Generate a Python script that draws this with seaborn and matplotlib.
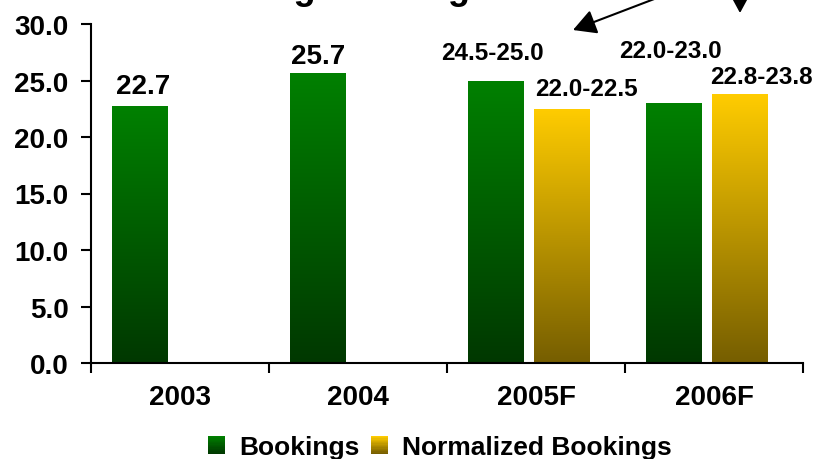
import numpy as np
import pandas as pd
import matplotlib
matplotlib.use("Agg")
import matplotlib.pyplot as plt
from matplotlib.patches import Rectangle, FancyArrowPatch
from matplotlib.legend_handler import HandlerBase
import seaborn as sns

# ---- data -------------------------------------------------------------
years = ["2003", "2004", "2005F", "2006F"]
series = ["Bookings", "Normalized Bookings"]
bookings = [22.7, 25.7, 25.0, 23.0]
bookings_labels = ["22.7", "25.7", "24.5-25.0", "22.0-23.0"]
normalized = [None, None, 22.5, 23.8]
normalized_labels = [None, None, "22.0-22.5", "22.8-23.8"]
y_ticks = [0, 5, 10, 15, 20, 25, 30]
title_text = "Strong Bookings"

# ---- styling ----------------------------------------------------------
sns.set_style("white")
plt.rcParams["font.family"] = ["Liberation Sans", "DejaVu Sans"]
plt.rcParams["font.weight"] = "bold"
plt.rcParams["text.color"] = "black"
plt.rcParams["xtick.color"] = "black"
plt.rcParams["ytick.color"] = "black"
plt.rcParams["xtick.labelcolor"] = "black"
plt.rcParams["ytick.labelcolor"] = "black"

grad = {
    "Bookings": ((0 / 255, 128 / 255, 0 / 255), (0 / 255, 56 / 255, 0 / 255)),
    "Normalized Bookings": ((255 / 255, 204 / 255, 0 / 255), (118 / 255, 94 / 255, 0 / 255)),
}
# label offsets in pixels (dx, dy above bar top) per series and year
bookings_off = [(3, 13), (0, 10), (-3, 21), (-3, 46)]
normalized_off = [None, None, (25, 14), (22, 11)]
label_size = {"short": 20, "range": 17.5}

rows = []
for y, v in zip(years, bookings):
    rows.append((y, "Bookings", v))
for y, v in zip(years, normalized):
    if v is not None:
        rows.append((y, "Normalized Bookings", v))
df = pd.DataFrame(rows, columns=["year", "series", "value"])

W, H, DPI = 821, 460, 100
fig = plt.figure(figsize=(W / DPI, H / DPI), dpi=DPI)
ax = fig.add_axes([91 / W, (H - 364) / H, (803 - 91) / W, (364 - 25) / H])

sns.barplot(data=df, x="year", y="value", hue="series", order=years,
            hue_order=series, width=0.742, gap=0.167, dodge=True,
            errorbar=None, legend=False, ax=ax,
            palette={s: grad[s][0] for s in series})

shift = 0.04
ax.set_xlim(-0.5 + shift, 3.5 + shift)
ax.set_ylim(0, 30)

# vertical gradient fill for each bar
for s, cont in zip(series, ax.containers):
    top, bot = grad[s]
    col = np.linspace(np.array(top), np.array(bot), 128).reshape(128, 1, 3)
    for bar in cont:
        h = bar.get_height()
        if not np.isfinite(h) or h <= 0:
            continue
        x0 = bar.get_x()
        bar.set_facecolor("none")
        bar.set_edgecolor("none")
        im = ax.imshow(col, extent=(x0, x0 + bar.get_width(), 0, h),
                       origin="upper", aspect="auto", zorder=2,
                       interpolation="bilinear")
        im.set_clip_path(bar)
ax.set_xlim(-0.5 + shift, 3.5 + shift)
ax.set_ylim(0, 30)

# value labels
label_sets = {"Bookings": (bookings, bookings_labels, bookings_off),
              "Normalized Bookings": (normalized, normalized_labels, normalized_off)}
for s, cont in zip(series, ax.containers):
    vals, labs, offs = label_sets[s]
    present = [(v, l, o) for v, l, o in zip(vals, labs, offs) if v is not None]
    for bar, (v, lab, off) in zip(cont, present):
        cx = bar.get_x() + bar.get_width() / 2
        size = label_size["range"] if "-" in lab else label_size["short"]
        ax.annotate(lab, xy=(cx, v), xytext=off, textcoords="offset pixels",
                    ha="center", va="baseline", fontsize=size,
                    fontweight="bold", color="black", annotation_clip=False)

# axes decorations
for sp in ["top", "right"]:
    ax.spines[sp].set_visible(False)
for sp in ["left", "bottom"]:
    ax.spines[sp].set_linewidth(1.5)
    ax.spines[sp].set_color("black")

ax.set_yticks(y_ticks)
ax.set_yticklabels([f"{t:.1f}" for t in y_ticks])
ax.tick_params(axis="y", direction="out", length=7.2, width=1.5, pad=9,
               labelsize=20, left=True, color="black", labelcolor="black")

bounds = [i - 0.5 + shift for i in range(len(years) + 1)]
ax.set_xticks(bounds)
ax.set_xticklabels([""] * len(bounds))
ax.set_xticks([i + shift for i in range(len(years))], minor=True)
ax.set_xticklabels(years, minor=True)
ax.tick_params(axis="x", which="major", direction="out", length=7.2,
               width=1.5, bottom=True, color="black")
ax.tick_params(axis="x", which="minor", length=0, pad=15, labelsize=20,
               labelcolor="black")
ax.set_xlabel("")
ax.set_ylabel("")
for t in ax.get_xticklabels(minor=True) + ax.get_yticklabels():
    t.set_fontweight("bold")
    t.set_color("black")


# legend with gradient swatches
class GradientHandler(HandlerBase):
    def __init__(self, top, bot, n=14):
        super().__init__()
        self.top, self.bot, self.n = np.array(top), np.array(bot), n

    def create_artists(self, legend, orig_handle, xdescent, ydescent,
                       width, height, fontsize, trans):
        arts = []
        for i in range(self.n):
            f = i / (self.n - 1)
            c = self.bot * (1 - f) + self.top * f
            r = Rectangle((-xdescent, -ydescent + height * i / self.n),
                          width, height / self.n * 1.08, facecolor=c,
                          edgecolor="none", transform=trans)
            arts.append(r)
        return arts


handles = [Rectangle((0, 0), 1, 1) for _ in series]
fs = 19
px = fs * DPI / 72
leg = fig.legend(handles, series, loc="center",
                 bbox_to_anchor=(440 / W, (H - 448) / H), ncol=2, frameon=False,
                 prop={"weight": "bold", "size": fs},
                 handlelength=17 / px, handleheight=18 / px,
                 handletextpad=14 / px, columnspacing=12 / px,
                 borderpad=0, borderaxespad=0,
                 handler_map={h: GradientHandler(*grad[s]) for h, s in zip(handles, series)})
for t in leg.get_texts():
    t.set_color("black")

# title running off the top edge
fig.text(199 / W, 1 + 1 / H, title_text, ha="left", va="baseline",
         fontsize=26, fontweight="bold", color="black")

# callout arrows coming in from above
arrow_kw = dict(arrowstyle="-|>,head_length=0.7,head_width=0.38",
                mutation_scale=20, lw=1.5, color="black",
                shrinkA=0, shrinkB=0)
fig.add_artist(FancyArrowPatch((704, H + 19), (573, H - 31),
                               transform=None, **arrow_kw))
fig.add_artist(FancyArrowPatch((740, H + 40), (740, H - 14),
                               transform=None, **arrow_kw))

fig.savefig("out.png", dpi=DPI)
